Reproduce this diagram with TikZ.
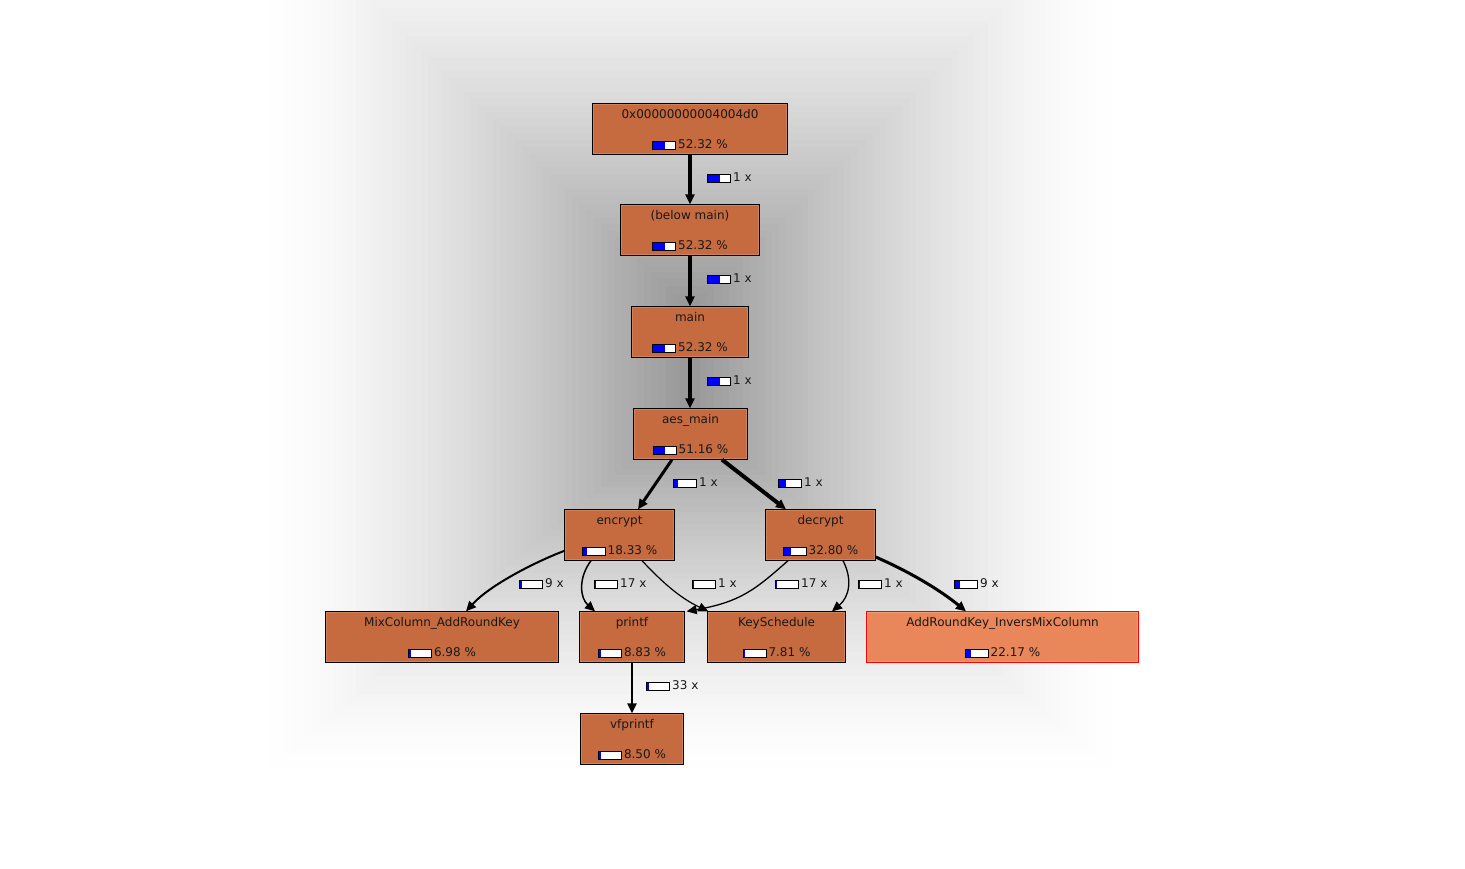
\documentclass[tikz,border=0pt]{standalone}
\usepackage{fontspec}
\setmainfont{DejaVu Sans}
\usetikzlibrary{arrows.meta}
\definecolor{nfill}{HTML}{C66A40}
\definecolor{nlight}{HTML}{D2825A}
\definecolor{rfill}{HTML}{E9865A}
\definecolor{rlight}{HTML}{F39D70}
\definecolor{bblue}{HTML}{0000FF}
\newcommand{\pbar}[1]{{\setlength{\fboxsep}{0pt}\setlength{\fboxrule}{1pt}\fcolorbox{black}{white}{\textcolor{bblue}{\rule{#1pt}{7pt}}\hspace{\dimexpr 22pt-#1pt\relax}}}}
\newcommand{\callnode}[9]{%
  \node[#8, minimum width=#4pt] (#1) at (#2,#3) {};
  \draw[line width=1pt, draw=#9] ([shift={(1.6,1.6)}]#1.north west) rectangle ([shift={(-1.6,-1.6)}]#1.south east);
  \node[tx] (#1-name) at (#2,#3-11) {#5};
  \node[tx] (#1-pct) at (#2,#3+19.5) {\pbar{#7}\hspace{2pt}#6};
}
\begin{document}
\begin{tikzpicture}[x=1pt,y=-1pt, font=\fontsize{12pt}{14pt}\selectfont,
  fn/.style={rectangle, draw=black, line width=1.3pt, fill=nfill, minimum height=50pt, inner sep=0pt},
  rn/.style={fn, draw=red, fill=rfill},
  tx/.style={inner sep=0pt, anchor=base, text=black!90},
  el/.style={inner sep=0pt, anchor=west, text=black!90},
  ed/.style={line width=#1pt, -{Triangle[length=10pt,width=9pt]}},
]
\useasboundingbox (0,0) rectangle (1465,868);
\fill[white] (0,0) rectangle (1465,868);
\begin{scope}
\clip (0,0) rectangle (1465,868);
\foreach \i in {0,...,59}{
  \pgfmathsetmacro\t{\i/59}
  \pgfmathsetmacro\c{40*\t*sqrt(\t)}
  \fill[black!\c] (255+425*\t, -110+410*\t) rectangle (1125-425*\t, 780-360*\t);
}
\end{scope}

\callnode{top}{690}{129}{194}{0x00000000004004d0}{52.32 \%}{11.5}{fn}{nlight}
\callnode{below}{690}{230}{138}{(below main)}{52.32 \%}{11.5}{fn}{nlight}
\callnode{main}{690}{332}{116}{main}{52.32 \%}{11.5}{fn}{nlight}
\callnode{aes}{690.5}{434}{113}{aes\_main}{51.16 \%}{11.3}{fn}{nlight}
\callnode{encrypt}{619.5}{535}{109}{encrypt}{18.33 \%}{4}{fn}{nlight}
\callnode{decrypt}{820.5}{535}{109}{decrypt}{32.80 \%}{7.2}{fn}{nlight}
\callnode{mix}{442}{637}{232}{MixColumn\_AddRoundKey}{6.98 \%}{1.5}{fn}{nlight}
\callnode{printf}{632}{637}{104}{printf}{8.83 \%}{1.9}{fn}{nlight}
\callnode{keysch}{776.5}{637}{137}{KeySchedule}{7.81 \%}{1.7}{fn}{nlight}
\callnode{invers}{1002.5}{637}{271}{AddRoundKey\_InversMixColumn}{22.17 \%}{4.9}{rn}{rlight}
\callnode{vfprintf}{632}{739}{102}{vfprintf}{8.50 \%}{1.9}{fn}{nlight}

% edges
\draw[ed=3.3] (top) -- (below);
\draw[ed=3.3] (below) -- (main);
\draw[ed=3.3] (main.south) -- (main.south |- aes.north);
\draw[ed=3] ([xshift=-18.5pt]aes.south) -- ([xshift=18.5pt]encrypt.north);
\draw[ed=4] ([xshift=31.5pt]aes.south) -- ([xshift=-34.5pt]decrypt.north);
\draw[ed=2] (encrypt.196) .. controls (535,562) and (490,585) .. ([xshift=24pt]mix.north);
\draw[ed=1.5] ([xshift=-28.5pt]encrypt.south) .. controls (578,578) and (580,598) .. ([xshift=-37pt]printf.north);
\draw[ed=1.2] ([xshift=22.5pt]encrypt.south) .. controls (662,582) and (680,598) .. ([xshift=1pt]keysch.north west);
\draw[ed=1.3] ([xshift=-32.5pt]decrypt.south) .. controls (755,590) and (740,602) .. ([xshift=2pt]printf.north east);
\draw[ed=1.3] ([xshift=22.5pt]decrypt.south) .. controls (853,580) and (849,597) .. ([xshift=55.5pt]keysch.north);
\draw[ed=3] ([yshift=-22pt]decrypt.east) .. controls (910,572) and (940,590) .. ([xshift=-36.5pt]invers.north);
\draw[ed=2.5] (printf) -- (vfprintf);

% edge labels
\node[el] (l1) at (707,178) {\pbar{11.5}\hspace{2pt}1 x};
\node[el] (l2) at (707,279) {\pbar{11.5}\hspace{2pt}1 x};
\node[el] (l3) at (707,381) {\pbar{11.3}\hspace{2pt}1 x};
\node[el] (l4) at (673,483) {\pbar{4}\hspace{2pt}1 x};
\node[el] (l5) at (778,483) {\pbar{7.2}\hspace{2pt}1 x};
\node[el] (l6) at (519,584) {\pbar{1.5}\hspace{2pt}9 x};
\node[el] (l7) at (594,584) {\pbar{1}\hspace{2pt}17 x};
\node[el] (l8) at (692,584) {\pbar{1}\hspace{2pt}1 x};
\node[el] (l9) at (775,584) {\pbar{1}\hspace{2pt}17 x};
\node[el] (l10) at (858,584) {\pbar{1}\hspace{2pt}1 x};
\node[el] (l11) at (954,584) {\pbar{4.9}\hspace{2pt}9 x};
\node[el] (l12) at (646,686) {\pbar{1.9}\hspace{2pt}33 x};
\end{tikzpicture}
\end{document}
